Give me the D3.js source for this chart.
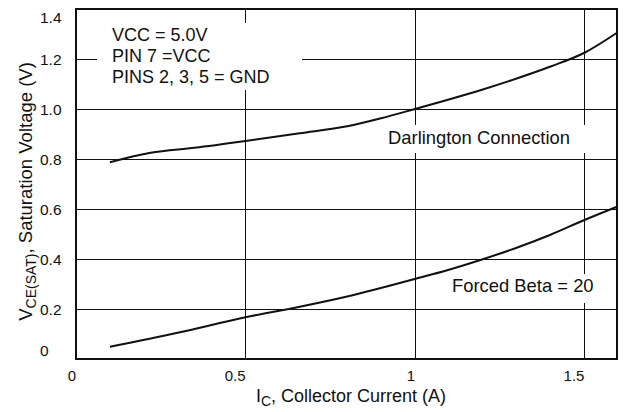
<!DOCTYPE html>
<html>
<head>
<meta charset="utf-8">
<script src="https://cdn.jsdelivr.net/npm/d3@7/dist/d3.min.js"></script>
<style>
  html, body { margin: 0; padding: 0; background: #fff; }
  svg { display: block; font-family: "Liberation Sans", Arial, sans-serif; }
</style>
</head>
<body>
<svg id="chart" width="626" height="412"></svg>
<script>
// ---- data ----
const darlingtonI = [0.1, 0.22, 0.35, 0.5, 0.66, 0.8, 0.9, 1.0, 1.1, 1.2, 1.3, 1.4, 1.5, 1.596];
const darlingtonV = [0.787, 0.825, 0.845, 0.872, 0.903, 0.931, 0.963, 1.0, 1.038, 1.078, 1.122, 1.17, 1.225, 1.305];
const betaI = [0.1, 0.3, 0.5, 0.66, 0.8, 1.0, 1.1, 1.2, 1.3, 1.4, 1.5, 1.596];
const betaV = [0.049, 0.105, 0.167, 0.209, 0.25, 0.32, 0.357, 0.399, 0.445, 0.497, 0.556, 0.609];
const xTicks = [0, 0.5, 1, 1.5];
const xTickLabels = ["0", "0.5", "1", "1.5"];
const yTicks = [0, 0.2, 0.4, 0.6, 0.8, 1.0, 1.2, 1.4];
const yTickLabels = ["0", "0.2", "0.4", "0.6", "0.8", "1.0", "1.2", "1.4"];
const conditionLines = ["VCC = 5.0V", "PIN 7 =VCC", "PINS 2, 3, 5 = GND"];
const seriesLabels = ["Darlington Connection", "Forced Beta = 20"];

// ---- layout ----
const svg = d3.select("#chart");
const x = d3.scaleLinear().domain([0, 1.596]).range([76, 617]);
const y = d3.scaleLinear().domain([0, 1.4]).range([359, 9]);
const ink = "#111";

// gridlines
const g = svg.append("g");
g.selectAll("line.vx").data(xTicks.filter(v => v > 0)).join("line")
  .attr("x1", d => Math.round(x(d)) + 0.5).attr("x2", d => Math.round(x(d)) + 0.5)
  .attr("y1", y(1.4)).attr("y2", y(0))
  .attr("stroke", ink).attr("stroke-width", 1);
g.selectAll("line.hy").data(yTicks.filter(v => v > 0 && v < 1.4)).join("line")
  .attr("y1", d => Math.round(y(d)) + 0.5).attr("y2", d => Math.round(y(d)) + 0.5)
  .attr("x1", x(0)).attr("x2", x(1.596))
  .attr("stroke", ink).attr("stroke-width", 1);

// white boxes behind annotations
const boxes = [[97, 23, 205, 67], [383, 125, 209, 28], [446, 274, 152, 29]];
svg.append("g").selectAll("rect").data(boxes).join("rect")
  .attr("x", d => d[0]).attr("y", d => d[1]).attr("width", d => d[2]).attr("height", d => d[3])
  .attr("fill", "#fff");

// curves
const line = d3.line().x(d => x(d[0])).y(d => y(d[1])).curve(d3.curveMonotoneX);
const series = [d3.zip(darlingtonI, darlingtonV), d3.zip(betaI, betaV)];
svg.append("g").selectAll("path").data(series).join("path")
  .attr("d", line).attr("fill", "none").attr("stroke", ink).attr("stroke-width", 2);

// frame
svg.append("rect")
  .attr("x", x(0)).attr("y", y(1.4))
  .attr("width", x(1.596) - x(0)).attr("height", y(0) - y(1.4))
  .attr("fill", "none").attr("stroke", ink).attr("stroke-width", 2);

// y tick labels (left aligned)
svg.append("g").selectAll("text").data(yTicks).join("text")
  .attr("x", 40)
  .attr("y", d => Math.min(350, Math.max(17, y(d))))
  .attr("dy", "0.36em")
  .attr("font-size", 15.5).attr("fill", ink)
  .text((d, i) => yTickLabels[i]);

// x tick labels (end aligned at tick)
svg.append("g").selectAll("text").data(xTicks).join("text")
  .attr("x", d => x(d))
  .attr("y", 381)
  .attr("text-anchor", "end")
  .attr("font-size", 15).attr("fill", ink)
  .text((d, i) => xTickLabels[i]);

// x axis title
const xt = svg.append("text").attr("x", 351).attr("y", 402).attr("text-anchor", "middle")
  .attr("font-size", 18).attr("fill", ink);
xt.append("tspan").text("I");
xt.append("tspan").attr("font-size", 14).attr("dy", 4).text("C");
xt.append("tspan").attr("dy", -4).text(", Collector Current (A)");

// y axis title
const yt = svg.append("text").attr("transform", "translate(32,191.5) rotate(-90)")
  .attr("text-anchor", "middle").attr("font-size", 18.5).attr("fill", ink);
yt.append("tspan").text("V");
yt.append("tspan").attr("font-size", 14).attr("dy", 4).text("CE(SAT)");
yt.append("tspan").attr("dy", -4).text(", Saturation Voltage (V)");

// conditions text
svg.append("g").selectAll("text").data(conditionLines).join("text")
  .attr("x", 112).attr("y", (d, i) => 40.7 + i * 21)
  .attr("font-size", 18).attr("fill", ink)
  .text(d => d);

// series labels
svg.append("text").attr("x", 388).attr("y", 144.3).attr("font-size", 18.4).attr("fill", ink).text(seriesLabels[0]);
svg.append("text").attr("x", 452).attr("y", 292.3).attr("font-size", 18.4).attr("fill", ink).text(seriesLabels[1]);
</script>
</body>
</html>
